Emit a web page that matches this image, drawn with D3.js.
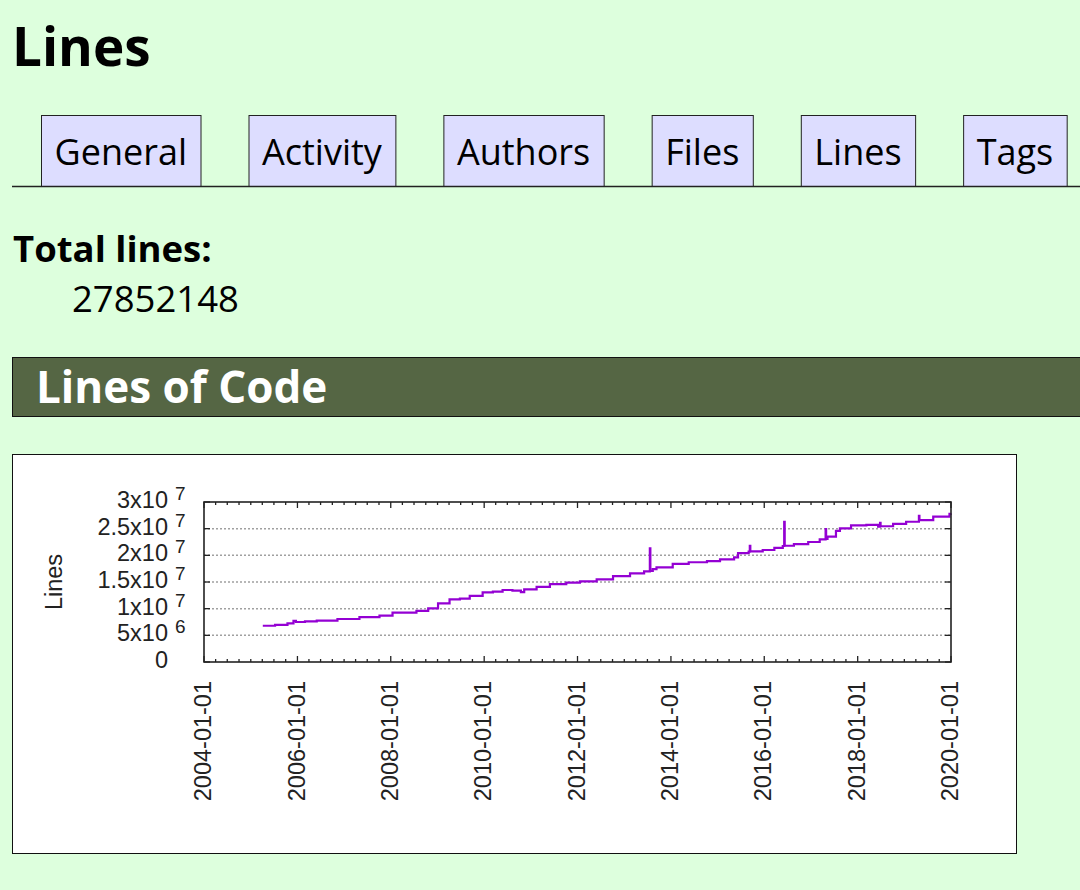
<!DOCTYPE html>
<html>
<head>
<meta charset="utf-8">
<title>Lines</title>
<script src="https://cdn.jsdelivr.net/npm/d3@7"></script>
<style>
  body { margin: 0; background: #dfd; }
  svg { display: block; }
</style>
</head>
<body>
<script>
// page data
var pageTitle = "Lines";
var tabNames = ["General", "Activity", "Authors", "Files", "Lines", "Tags"];
var totalLabel = "Total lines:";
var totalLines = "27852148";
var sectionTitle = "Lines of Code";

// chart data (step series)
var lineDates = [
  "2005-04-05", "2005-07-10", "2005-10-15", "2005-12-01", "2005-12-20", "2006-03-01",
  "2006-06-01", "2006-11-10", "2007-05-01", "2007-10-05", "2008-01-15", "2008-07-20",
  "2008-10-20", "2009-01-05", "2009-04-05", "2009-06-25", "2009-09-10", "2009-12-20",
  "2010-03-10", "2010-05-25", "2010-08-10", "2010-10-15", "2010-11-10", "2011-02-15",
  "2011-05-30", "2011-10-05", "2012-01-20", "2012-05-30", "2012-10-05", "2013-02-15",
  "2013-06-05", "2013-07-20", "2013-07-24", "2013-08-12", "2013-09-10", "2014-01-15",
  "2014-05-20", "2014-10-10", "2015-01-20", "2015-05-10", "2015-06-10", "2015-09-01",
  "2015-09-10", "2015-09-14", "2015-12-20", "2016-03-20", "2016-05-25", "2016-06-05",
  "2016-06-09", "2016-08-20", "2016-12-10", "2017-03-10", "2017-04-25", "2017-04-29",
  "2017-05-10", "2017-07-15", "2017-08-15", "2017-11-10", "2018-03-10", "2018-06-10",
  "2018-06-25", "2018-06-29", "2018-10-05", "2019-01-15", "2019-04-25", "2019-04-29",
  "2019-08-15", "2019-12-20", "2019-12-31"
];
var lineValues = [
  6800000, 6950000, 7250000, 7700000, 7500000, 7600000,
  7750000, 8060000, 8400000, 8700000, 9250000, 9600000,
  10060000, 11000000, 11750000, 11900000, 12400000, 13060000,
  13200000, 13500000, 13400000, 13100000, 13600000, 14100000,
  14600000, 14900000, 15100000, 15500000, 16100000, 16600000,
  17000000, 21300000, 17100000, 17400000, 17750000, 18400000,
  18700000, 18900000, 19250000, 19600000, 20400000, 20700000,
  21800000, 20750000, 21000000, 21400000, 21750000, 26300000,
  21800000, 22100000, 22500000, 23000000, 24900000, 23100000,
  23500000, 24600000, 25060000, 25600000, 25700000, 25400000,
  26100000, 25450000, 25900000, 26300000, 27400000, 26600000,
  27250000, 27800000, 27852148
];

var xTickDates = ["2004-01-01", "2006-01-01", "2008-01-01", "2010-01-01", "2012-01-01",
                  "2014-01-01", "2016-01-01", "2018-01-01", "2020-01-01"];
var yTickValues = [0, 5000000, 10000000, 15000000, 20000000, 25000000, 30000000];
var yTickMantissa = ["0", "5x10", "1x10", "1.5x10", "2x10", "2.5x10", "3x10"];
var yTickExponent = ["", "6", "7", "7", "7", "7", "7"];
var yAxisTitle = "Lines";

var W = 1080, H = 890;
var pageFont = "'Open Sans', 'Noto Sans', sans-serif";
var plotFont = "'Liberation Sans', Arial, sans-serif";

var svg = d3.select("body").append("svg").attr("width", W).attr("height", H);

// title
svg.append("text")
  .attr("x", 12).attr("y", 66)
  .attr("font-family", pageFont).attr("font-weight", "bold").attr("font-size", "53px")
  .text(pageTitle);

// tabs
var tabTop = 115, tabBottom = 186, tabPad = 13.5, tabGap = 48;
var tabX = 41;
var tabG = svg.append("g");
tabNames.forEach(function (name) {
  var g = tabG.append("g");
  var rect = g.append("rect");
  var t = g.append("text")
    .attr("y", 165)
    .attr("font-family", pageFont).attr("font-size", "36px")
    .text(name);
  var tw = t.node().getComputedTextLength();
  var bw = tw + tabPad * 2;
  rect.attr("x", tabX + 0.5).attr("y", tabTop + 0.5)
    .attr("width", bw).attr("height", tabBottom - tabTop)
    .attr("fill", "#ddf").attr("stroke", "#222").attr("stroke-width", 1);
  t.attr("x", tabX + tabPad);
  tabX += bw + tabGap;
});
svg.append("line")
  .attr("x1", 12).attr("x2", W).attr("y1", tabBottom + 0.5).attr("y2", tabBottom + 0.5)
  .attr("stroke", "#222").attr("stroke-width", 1.5);

// total lines
svg.append("text")
  .attr("x", 13).attr("y", 262)
  .attr("font-family", pageFont).attr("font-weight", "bold").attr("font-size", "36.5px")
  .text(totalLabel);
svg.append("text")
  .attr("x", 72).attr("y", 312)
  .attr("font-family", pageFont).attr("font-size", "36.5px")
  .text(totalLines);

// section header
svg.append("rect")
  .attr("x", 12.5).attr("y", 357.5).attr("width", W).attr("height", 59)
  .attr("fill", "#564").attr("stroke", "#111").attr("stroke-width", 1);
svg.append("text")
  .attr("x", 36).attr("y", 403)
  .attr("font-family", pageFont).attr("font-weight", "bold").attr("font-size", "44px")
  .attr("fill", "white")
  .text(sectionTitle);

// chart image box
svg.append("rect")
  .attr("x", 12.5).attr("y", 454.5).attr("width", 1004).attr("height", 399)
  .attr("fill", "white").attr("stroke", "#111").attr("stroke-width", 1);

// plot
var parse = d3.timeParse("%Y-%m-%d");
var plotLeft = 204, plotRight = 951, plotTop = 502, plotBottom = 662;

var x = d3.scaleTime()
  .domain([parse(xTickDates[0]), parse(xTickDates[xTickDates.length - 1])])
  .range([plotLeft, plotRight]);
var y = d3.scaleLinear()
  .domain([0, 30000000])
  .range([plotBottom, plotTop]);

var plot = svg.append("g");

// grid
plot.selectAll(".grid")
  .data(yTickValues.slice(1, -1))
  .enter().append("line")
  .attr("x1", plotLeft).attr("x2", plotRight)
  .attr("y1", function (d) { return y(d); })
  .attr("y2", function (d) { return y(d); })
  .attr("stroke", "#a0a0a0").attr("stroke-width", 1.5)
  .attr("stroke-dasharray", "2,2");

// minor & major x ticks (bottom and top, inward)
var minorTicks = x.ticks(d3.timeMonth.every(3));
var majorTicks = xTickDates.map(parse);
var majorSet = majorTicks.map(function (d) { return +d; });
minorTicks.forEach(function (d) {
  var len = majorSet.indexOf(+d) >= 0 ? 6 : 3;
  plot.append("line").attr("x1", x(d)).attr("x2", x(d))
    .attr("y1", plotBottom).attr("y2", plotBottom - len)
    .attr("stroke", "#222").attr("stroke-width", 1.3);
  plot.append("line").attr("x1", x(d)).attr("x2", x(d))
    .attr("y1", plotTop).attr("y2", plotTop + len)
    .attr("stroke", "#222").attr("stroke-width", 1.3);
});

// y ticks (left and right, inward)
yTickValues.forEach(function (v) {
  plot.append("line").attr("x1", plotLeft).attr("x2", plotLeft + 6)
    .attr("y1", y(v)).attr("y2", y(v))
    .attr("stroke", "#222").attr("stroke-width", 1.3);
  plot.append("line").attr("x1", plotRight).attr("x2", plotRight - 6)
    .attr("y1", y(v)).attr("y2", y(v))
    .attr("stroke", "#222").attr("stroke-width", 1.3);
});

// series
var data = lineDates.map(function (d, i) { return { date: parse(d), value: lineValues[i] }; });
var line = d3.line()
  .x(function (d) { return x(d.date); })
  .y(function (d) { return y(d.value); })
  .curve(d3.curveStepAfter);
plot.append("path")
  .datum(data)
  .attr("d", line)
  .attr("fill", "none")
  .attr("stroke", "#9400d3")
  .attr("stroke-width", 2.2);

// border
plot.append("rect")
  .attr("x", plotLeft).attr("y", plotTop)
  .attr("width", plotRight - plotLeft).attr("height", plotBottom - plotTop)
  .attr("fill", "none").attr("stroke", "#222").attr("stroke-width", 1.6);

// y tick labels
var yLab = plot.append("g")
  .attr("font-family", plotFont).attr("fill", "#222");
yTickValues.forEach(function (v, i) {
  yLab.append("text")
    .attr("x", 168).attr("y", y(v) + 6)
    .attr("text-anchor", "end").attr("font-size", "23.5px")
    .text(yTickMantissa[i]);
  if (yTickExponent[i]) {
    yLab.append("text")
      .attr("x", 175).attr("y", y(v) - 2)
      .attr("font-size", "19px")
      .text(yTickExponent[i]);
  }
});

// x tick labels
plot.append("g")
  .attr("font-family", plotFont).attr("fill", "#222").attr("font-size", "23.5px")
  .selectAll("text")
  .data(majorTicks)
  .enter().append("text")
  .attr("transform", function (d) { return "translate(" + x(d) + ",681) rotate(-90)"; })
  .attr("text-anchor", "end")
  .attr("dy", "0.3em")
  .text(function (d) { return d3.timeFormat("%Y-%m-%d")(d); });

// y axis title
plot.append("text")
  .attr("transform", "translate(62," + ((plotTop + plotBottom) / 2) + ") rotate(-90)")
  .attr("text-anchor", "middle")
  .attr("font-family", plotFont).attr("fill", "#222").attr("font-size", "23.5px")
  .text(yAxisTitle);
</script>
</body>
</html>
